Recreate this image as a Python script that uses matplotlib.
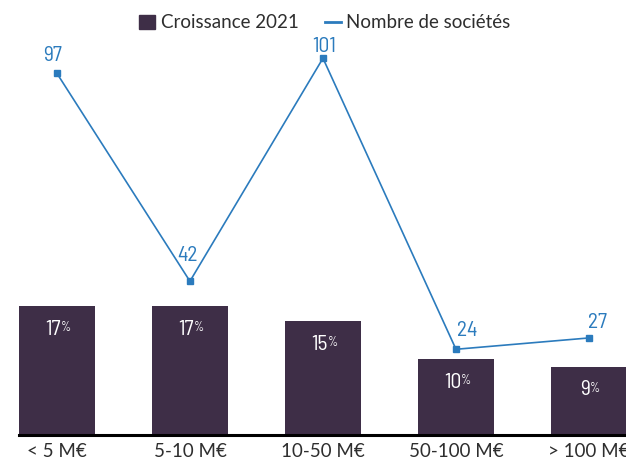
import matplotlib
matplotlib.use("Agg")
import matplotlib.pyplot as plt
from matplotlib.lines import Line2D
from matplotlib.patches import Patch

categories = ["< 5 M€", "5-10 M€", "10-50 M€", "50-100 M€", "> 100 M€"]
croissance = [17, 17, 15, 10, 9]
nb_societes = [97, 42, 101, 24, 27]

BAR = "#3e2e47"
LINE = "#2b7bbd"
TXT = "#2e2e2e"
COND = ["Barlow Semi Condensed", "DejaVu Sans"]
MAIN = ["Lato", "DejaVu Sans"]

W, H = 626, 465
fig = plt.figure(figsize=(W / 100, H / 100), dpi=100)
ax = fig.add_axes([19 / W, 30 / H, 1 - 19 / W, 415 / H])
x = list(range(len(categories)))
ax.bar(x, croissance, width=0.57, color=BAR, zorder=2)
ax.set_xlim(-0.285, 4.278)
ax.set_ylim(0, 415 / 7.6)
for s in ["top", "right", "left"]:
    ax.spines[s].set_visible(False)
ax.spines["bottom"].set_linewidth(2.2)
ax.spines["bottom"].set_color("black")
ax.spines["bottom"].set_zorder(5)
ax.set_yticks([])
ax.set_xticks(x)
ax.set_xticklabels(categories, fontsize=13.5, color=TXT, family=MAIN)
ax.tick_params(axis="x", length=0, pad=6)

for xi, v in zip(x, croissance):
    t = ax.annotate(str(v), xy=(xi, v), xytext=(-2.5, -10), textcoords="offset points",
                    ha="center", va="top", color="white", fontsize=15.5,
                    family=COND, zorder=4)
    ax.annotate("%", xy=(1, 0.92), xycoords=t, xytext=(0, 0), textcoords="offset points",
                ha="left", va="top", color="white", fontsize=9, family=COND, zorder=4)

ax2 = ax.twinx()
ax2.set_ylim(5 / 3.78, 5 / 3.78 + 415 / 3.78)
ax2.axis("off")
ax2.plot(x, nb_societes, color=LINE, lw=1.2, marker="s", markersize=4, zorder=3)
label_dx = [-3, -2, 0.7, 8, 6]
label_dy = [8.6, 14.4, 4.3, 9.4, 7.2]
for xi, v, dx, dy in zip(x, nb_societes, label_dx, label_dy):
    ax2.annotate(str(v), xy=(xi, v), xytext=(dx, dy), textcoords="offset points",
                 ha="center", va="baseline", color=LINE, fontsize=15.5,
                 family=COND)

handles = [Patch(facecolor=BAR, edgecolor=BAR), Line2D([0], [0], color=LINE, lw=2)]
fig.legend(handles, ["Croissance 2021", "Nombre de sociétés"], loc="center",
           bbox_to_anchor=(325 / W, 1 - 23 / H), ncol=2, frameon=False,
           prop={"family": MAIN, "size": 13.5}, handlelength=0.85, handleheight=0.85,
           handletextpad=0.3, columnspacing=1.4, labelcolor=TXT)

fig.savefig("out.png", dpi=100)
